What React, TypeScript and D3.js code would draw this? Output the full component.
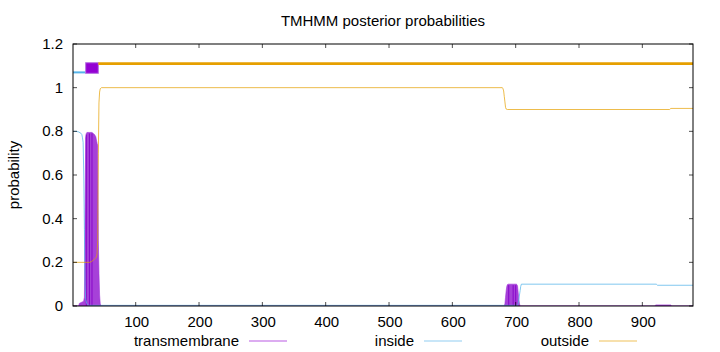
import React from "react";
import * as d3 from "d3";

const SEQ_LENGTH = 980;
const title = "TMHMM posterior probabilities";
const yLabel = "probability";
const xTicks = [100, 200, 300, 400, 500, 600, 700, 800, 900];
const yTicks = [0, 0.2, 0.4, 0.6, 0.8, 1, 1.2];
const yTickLabels = ["0", "0.2", "0.4", "0.6", "0.8", "1", "1.2"];
const legendLabels = ["transmembrane", "inside", "outside"];

// [residue, probability]
const tmProb: [number, number][] = [
  [1, 0], [10, 0], [11, 0.012], [13, 0.015], [17, 0.02], [18, 0.025], [19, 0.04],
  [20, 0.4], [21, 0.77], [22, 0.79], [23, 0.795], [27, 0.795], [31, 0.795],
  [33, 0.79], [35, 0.785], [37, 0.775], [38, 0.76], [39, 0.745], [40, 0.735],
  [41, 0.3], [42, 0.15], [43, 0.05], [44, 0.01], [45, 0],
  [682, 0], [683, 0.01], [684, 0.04], [685, 0.07], [686, 0.09], [687, 0.098],
  [688, 0.1], [689, 0.1], [696, 0.1], [700, 0.1], [701, 0.1], [702, 0.098],
  [703, 0.09], [704, 0.06], [705, 0.03], [706, 0.01], [707, 0],
  [920, 0], [921, 0.005], [945, 0.005], [946, 0], [980, 0],
];
const tmDarkImpulses = [22, 27, 31, 689, 696, 700];

const insideProb: [number, number][] = [
  [1, 0.8], [6, 0.8], [10, 0.797], [14, 0.79], [15, 0.785], [16, 0.77], [17, 0.75],
  [18, 0.6], [19, 0.35], [20, 0.1], [21, 0.03], [23, 0.01], [26, 0.003],
  [703, 0.003], [704, 0.01], [705, 0.03], [707, 0.07], [708, 0.09], [709, 0.1],
  [922, 0.1], [924, 0.095], [980, 0.095],
];

const outsideProb: [number, number][] = [
  [1, 0.2], [27, 0.2], [30, 0.203], [33, 0.21], [35, 0.215], [37, 0.22], [38, 0.225],
  [39, 0.24], [40, 0.3], [41, 0.7], [42, 0.93], [43, 0.98], [44, 0.995], [46, 1.0],
  [679, 1.0], [680, 0.995], [681, 0.985], [682, 0.96], [683, 0.935], [684, 0.91],
  [685, 0.902], [687, 0.9], [943, 0.9], [945, 0.905], [980, 0.905],
];

const topology = [
  { kind: "inside", start: 1, end: 21, level: 1.07 },
  { kind: "tm", start: 21, end: 41, level: 1.09 },
  { kind: "outside", start: 41, end: 980, level: 1.11 },
];

const COLORS: Record<string, string> = {
  tm: "#9400d3",
  inside: "#56b4e9",
  outside: "#e69f00",
};

const W = 720;
const H = 352;
const L = 73;
const R = 693;
const T = 44;
const B = 306;
const FONT = "'Liberation Sans', Arial, Helvetica, sans-serif";

export default function App() {
  const x = d3.scaleLinear().domain([1, SEQ_LENGTH]).range([L, R]);
  const y = d3.scaleLinear().domain([0, 1.2]).range([B, T]);

  const line = d3
    .line<[number, number]>()
    .x((d) => x(d[0]))
    .y((d) => y(d[1]));
  const area = d3
    .area<[number, number]>()
    .x((d) => x(d[0]))
    .y0(y(0))
    .y1((d) => y(d[1]));

  const legendColors = [COLORS.tm, COLORS.inside, COLORS.outside];

  return (
    <svg
      width={W}
      height={H}
      style={{ position: "absolute", left: 0, top: 0, background: "#fff" }}
      fontFamily={FONT}
      fontSize={15}
    >
      <defs>
        <clipPath id="plotclip">
          <rect x={L} y={T} width={R - L} height={B - T} />
        </clipPath>
      </defs>
      <rect x={0} y={0} width={W} height={H} fill="#fff" />

      <text x={(L + R) / 2} y={26} textAnchor="middle" fill="#000">
        {title}
      </text>

      {/* plot contents */}
      <g clipPath="url(#plotclip)">
        <path d={area(tmProb) || ""} fill="#a641d8" stroke="#a030d8" strokeWidth={0.6} />
        {tmDarkImpulses.map((r) => {
          const p = tmProb.find((d) => d[0] === r);
          if (!p) return null;
          return (
            <line
              key={r}
              x1={x(r)}
              x2={x(r)}
              y1={y(0)}
              y2={y(p[1]) + 1}
              stroke="#8400c8"
              strokeWidth={0.9}
            />
          );
        })}
        <path d={line(insideProb) || ""} fill="none" stroke={COLORS.inside} strokeWidth={1} strokeOpacity={0.75} />
        <path d={line(outsideProb) || ""} fill="none" stroke={COLORS.outside} strokeWidth={1} strokeOpacity={0.7} />

        {topology.map((s, i) => {
          if (s.kind === "tm") {
            return (
              <rect
                key={i}
                x={x(s.start)}
                y={y(s.level) - 5.3}
                width={x(s.end) - x(s.start)}
                height={10.6}
                fill={COLORS.tm}
                stroke="#b772e2"
                strokeWidth={1}
              />
            );
          }
          return (
            <line
              key={i}
              x1={x(s.start)}
              x2={Math.min(x(s.end), R)}
              y1={y(s.level)}
              y2={y(s.level)}
              stroke={COLORS[s.kind]}
              strokeWidth={s.kind === "outside" ? 2.6 : 2}
            />
          );
        })}
      </g>

      {/* ticks */}
      {yTicks.map((t, i) => (
        <g key={"y" + i}>
          <line x1={L} x2={L + 4} y1={y(t)} y2={y(t)} stroke="#000" strokeWidth={0.7} />
          <line x1={R - 4} x2={R} y1={y(t)} y2={y(t)} stroke="#000" strokeWidth={0.7} />
          <text x={63} y={y(t) + 5} textAnchor="end" fill="#000">
            {yTickLabels[i]}
          </text>
        </g>
      ))}
      {xTicks.map((t) => (
        <g key={"x" + t}>
          <line x1={x(t)} x2={x(t)} y1={B} y2={B - 4} stroke="#000" strokeWidth={0.7} />
          <line x1={x(t)} x2={x(t)} y1={T} y2={T + 4} stroke="#000" strokeWidth={0.7} />
          <text x={x(t) + 1} y={327} textAnchor="middle" fill="#000">
            {t}
          </text>
        </g>
      ))}

      {/* frame */}
      <rect x={L} y={T} width={R - L} height={B - T} fill="none" stroke="#000" strokeWidth={1} />

      <text transform={`translate(19,${(T + B) / 2}) rotate(-90)`} textAnchor="middle" fill="#000">
        {yLabel}
      </text>

      {/* legend */}
      {legendLabels.map((lab, i) => {
        const tx = 239 + i * 175;
        return (
          <g key={lab}>
            <text x={tx} y={346} textAnchor="end" fill="#000">
              {lab}
            </text>
            <line
              x1={tx + 10}
              x2={tx + 48}
              y1={341}
              y2={341}
              stroke={legendColors[i]}
              strokeWidth={1}
              strokeOpacity={0.65}
            />
          </g>
        );
      })}
    </svg>
  );
}
